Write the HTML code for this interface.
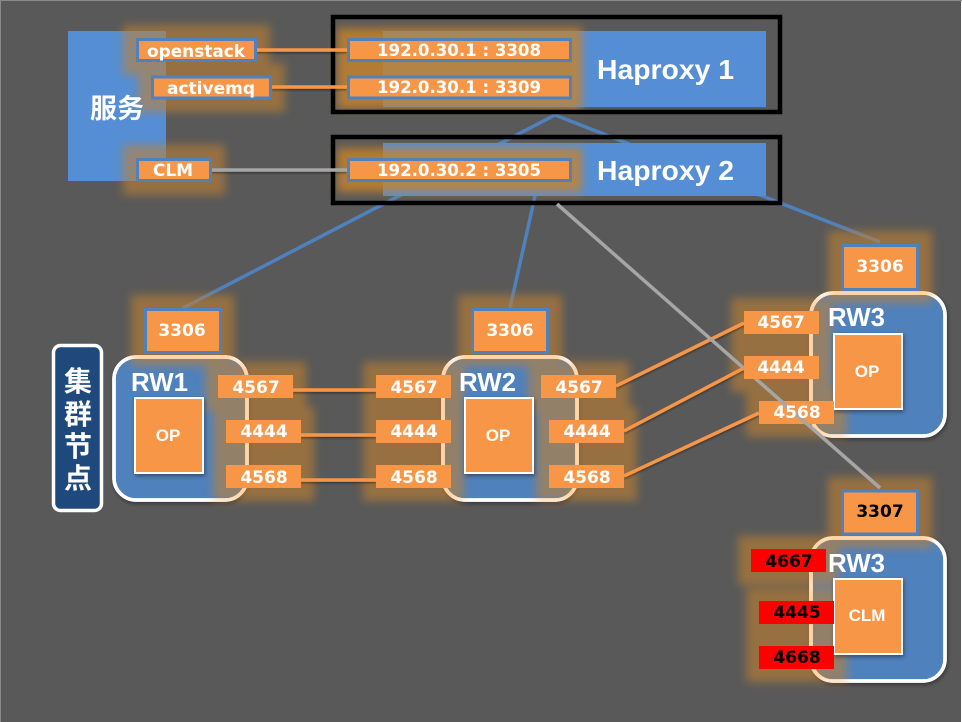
<!DOCTYPE html>
<html><head><meta charset="utf-8"><style>
html,body{margin:0;padding:0;background:#595959;width:962px;height:722px;overflow:hidden}
svg{display:block}
text{font-family:"DejaVu Sans","Noto Sans CJK SC",sans-serif;font-weight:bold;fill:#fff;text-anchor:middle}
.big{font-family:"Liberation Sans",sans-serif;text-anchor:start}
.g{fill:#c08030;opacity:.6}
.g2{fill:#c8832a;opacity:.82}
.o{fill:#f79646}
.b{fill:#f79646;stroke:#4f81bd;stroke-width:3}
.p{font-size:17px}
.k{fill:#000}
.m{font-family:"Liberation Sans",sans-serif;font-size:17px}
.cjk{font-family:"Noto Sans CJK SC",sans-serif}
</style></head><body>
<svg width="962" height="722" viewBox="0 0 962 722" xmlns="http://www.w3.org/2000/svg">
<defs>
<filter id="f" filterUnits="userSpaceOnUse" x="0" y="0" width="962" height="722"><feGaussianBlur stdDeviation="4.500"/></filter>
<filter id="s" x="-10%" y="-10%" width="120%" height="120%"><feDropShadow dx="1" dy="2" stdDeviation="2" flood-color="#000" flood-opacity=".4"/></filter>
<filter id="l" filterUnits="userSpaceOnUse" x="0" y="0" width="962" height="722"><feDropShadow dx="0" dy="1.500" stdDeviation="1" flood-color="#000" flood-opacity=".4"/></filter>
<g id="gr">
<rect x="123" y="25" width="147" height="50"/>
<rect x="138" y="63" width="147" height="49"/>
<rect x="123" y="145" width="102" height="50"/>
<rect x="131" y="295" width="103" height="71"/>
<rect x="458" y="295" width="104" height="71"/>
<rect x="828" y="231" width="104" height="72"/>
<rect x="828" y="477" width="104" height="71"/>
<rect x="205" y="362" width="101" height="49"/><rect x="213" y="407" width="101" height="49"/><rect x="213" y="452" width="101" height="49"/>
<rect x="363" y="362" width="101" height="49"/><rect x="363" y="407" width="101" height="49"/><rect x="363" y="452" width="101" height="49"/>
<rect x="528" y="362" width="101" height="49"/><rect x="536" y="407" width="101" height="49"/><rect x="536" y="452" width="101" height="49"/>
<rect x="731" y="298" width="101" height="49"/><rect x="731" y="343" width="101" height="49"/><rect x="746" y="388" width="101" height="49"/>
<rect x="738" y="536" width="101" height="49"/><rect x="746" y="588" width="101" height="49"/><rect x="746" y="633" width="101" height="49"/>
</g>
<mask id="gm" maskUnits="userSpaceOnUse" x="0" y="0" width="962" height="722">
<g filter="url(#f)" fill="#fff"><use href="#gr"/></g>
</mask>
</defs>
<rect width="962" height="722" fill="#595959"/>
<rect x="0" y="0" width="1" height="722" fill="#8a8a8a"/>
<rect x="961" y="0" width="1" height="722" fill="#fff"/>
<rect x="0" y="0" width="962" height="1" fill="#8a8a8a"/>

<g stroke-width="3.500" fill="none">
<path d="M555 115L183 308M555 115L880 242M535 196L510 308" stroke="#4f81bd"/>
</g>

<rect x="68" y="31" width="98" height="150" fill="#558ed5"/>
<rect x="383" y="31" width="383" height="76" fill="#558ed5"/>
<rect x="383" y="143" width="383" height="53" fill="#558ed5"/>

<!-- Cluster node fills -->
<g fill="#4f81bd" stroke="#fff" stroke-width="3.500" filter="url(#s)">
<rect x="114" y="357" width="133" height="143" rx="22"/>
<rect x="443" y="357" width="134" height="143" rx="22"/>
<rect x="811" y="293" width="134" height="143" rx="22"/>
<rect x="811" y="538" width="134" height="143" rx="22"/>
</g>

<!-- Glows -->
<g filter="url(#f)" class="g"><use href="#gr"/></g>
<g filter="url(#f)" class="g2">
<rect x="337" y="28" width="245" height="44"/>
<rect x="337" y="66" width="245" height="43"/>
<rect x="337" y="148" width="245" height="44"/>
</g>

<!-- Node borders over the glow -->
<g fill="none" stroke="#fff" stroke-width="3.500">
<rect x="114" y="357" width="133" height="143" rx="22"/>
<rect x="443" y="357" width="134" height="143" rx="22"/>
<rect x="811" y="293" width="134" height="143" rx="22"/>
<rect x="811" y="538" width="134" height="143" rx="22"/>
</g>
<g fill="none" stroke="#ffd4a6" stroke-width="3.500" mask="url(#gm)">
<rect x="114" y="357" width="133" height="143" rx="22"/>
<rect x="443" y="357" width="134" height="143" rx="22"/>
<rect x="811" y="293" width="134" height="143" rx="22"/>
<rect x="811" y="538" width="134" height="143" rx="22"/>
</g>

<!-- Haproxy frames -->
<rect x="333" y="17" width="447" height="95" fill="none" stroke="#000" stroke-width="4.500"/>
<rect x="333" y="137" width="447" height="66" fill="none" stroke="#000" stroke-width="4.500"/>

<!-- Connectors -->
<g stroke-width="3.500" fill="none" stroke="#f79646" filter="url(#l)">
<path d="M257 50H347M272 87H347"/>
<path d="M293 390H376M301 435H376M301 480H376"/>
<path d="M616 386L744 323M624 431L744 368M624 476L759 413"/>
</g>
<path d="M212 170H347" stroke="#a6a6a6" stroke-width="3.500" filter="url(#l)"/>
<path d="M557 204L880 488" stroke="#a6a6a6" stroke-width="3.500"/>

<!-- Service labels -->
<rect class="b" x="137.500" y="39.500" width="118" height="21"/>
<rect class="b" x="152.500" y="77" width="118" height="21"/>
<rect class="b" x="137.500" y="159.500" width="73" height="21"/>
<rect class="b" x="348.500" y="39.500" width="222" height="21"/>
<rect class="b" x="348.500" y="77" width="222" height="21"/>
<rect class="b" x="348.500" y="159.500" width="222" height="21"/>
<text x="196" y="57" font-size="17" textLength="98" lengthAdjust="spacingAndGlyphs">openstack</text>
<text x="211" y="94" font-size="17" textLength="88" lengthAdjust="spacingAndGlyphs">activemq</text>
<text x="173" y="176" font-size="17">CLM</text>
<text x="459" y="56" font-size="17" textLength="164" lengthAdjust="spacingAndGlyphs">192.0.30.1 : 3308</text>
<text x="459" y="93" font-size="17" textLength="164" lengthAdjust="spacingAndGlyphs">192.0.30.1 : 3309</text>
<text x="459" y="176" font-size="17" textLength="164" lengthAdjust="spacingAndGlyphs">192.0.30.2 : 3305</text>
<text class="big" x="597" y="79" font-size="28" textLength="137" lengthAdjust="spacingAndGlyphs">Haproxy 1</text>
<text class="big" x="597" y="180" font-size="28" textLength="137" lengthAdjust="spacingAndGlyphs">Haproxy 2</text>
<text class="cjk" x="117" y="118" font-size="27">服务</text>

<!-- Cluster label -->
<rect x="53.500" y="345.500" width="48" height="165" rx="7" fill="#1f497d" stroke="#fff" stroke-width="3.500"/>
<text class="cjk" x="78" y="391" font-size="28">集</text>
<text class="cjk" x="78" y="424" font-size="28">群</text>
<text class="cjk" x="78" y="456" font-size="28">节</text>
<text class="cjk" x="78" y="488" font-size="28">点</text>

<!-- Port boxes 33xx -->
<rect class="b" x="145.500" y="309.500" width="75" height="43"/>
<rect class="b" x="472.500" y="309.500" width="75" height="43"/>
<rect class="b" x="842.500" y="245.500" width="75" height="44"/>
<rect class="b" x="842.500" y="491" width="75" height="43"/>
<text class="p" x="182" y="336">3306</text>
<text class="p" x="510" y="336">3306</text>
<text class="p" x="880" y="272">3306</text>
<text class="p k" x="880" y="517">3307</text>

<!-- Node titles -->
<text class="big" x="131" y="391" font-size="26" textLength="57" lengthAdjust="spacingAndGlyphs">RW1</text>
<text class="big" x="459" y="391" font-size="26" textLength="57" lengthAdjust="spacingAndGlyphs">RW2</text>
<text class="big" x="828" y="326" font-size="26" textLength="57" lengthAdjust="spacingAndGlyphs">RW3</text>
<text class="big" x="828" y="572" font-size="26" textLength="57" lengthAdjust="spacingAndGlyphs">RW3</text>

<!-- Inner boxes -->
<g class="o" stroke="#fff" stroke-width="2" filter="url(#s)">
<rect x="135" y="398" width="68" height="75"/>
<rect x="465" y="398" width="68" height="75"/>
<rect x="834" y="334" width="68" height="75"/>
<rect x="834" y="579" width="68" height="75"/>
</g>
<text class="m" x="168" y="441">OP</text>
<text class="m" x="498" y="441">OP</text>
<text class="m" x="867" y="377">OP</text>
<text class="m" x="867" y="621">CLM</text>

<!-- Ports -->
<g class="o">
<rect x="218" y="375" width="75" height="23"/><rect x="226" y="420" width="75" height="23"/><rect x="226" y="465" width="75" height="23"/>
<rect x="376" y="375" width="75" height="23"/><rect x="376" y="420" width="75" height="23"/><rect x="376" y="465" width="75" height="23"/>
<rect x="541" y="375" width="75" height="23"/><rect x="549" y="420" width="75" height="23"/><rect x="549" y="465" width="75" height="23"/>
<rect x="744" y="311" width="75" height="23"/><rect x="744" y="356" width="75" height="23"/><rect x="759" y="401" width="75" height="23"/>
</g>
<g fill="#f00">
<rect x="751" y="549" width="75" height="23"/><rect x="759" y="601" width="75" height="23"/><rect x="759" y="646" width="75" height="23"/>
</g>
<path d="M780 400.500L807 424" stroke="#a6a6a6" stroke-width="3.500"/>
<text class="p" x="256" y="393">4567</text><text class="p" x="264" y="437">4444</text><text class="p" x="264" y="483">4568</text>
<text class="p" x="414" y="393">4567</text><text class="p" x="414" y="437">4444</text><text class="p" x="414" y="483">4568</text>
<text class="p" x="579" y="393">4567</text><text class="p" x="587" y="437">4444</text><text class="p" x="587" y="483">4568</text>
<text class="p" x="781" y="328">4567</text><text class="p" x="781" y="373">4444</text><text class="p" x="797" y="418">4568</text>
<text class="p k" x="789" y="567">4667</text><text class="p k" x="797" y="618">4445</text><text class="p k" x="797" y="663">4668</text>
</svg>
</body></html>
